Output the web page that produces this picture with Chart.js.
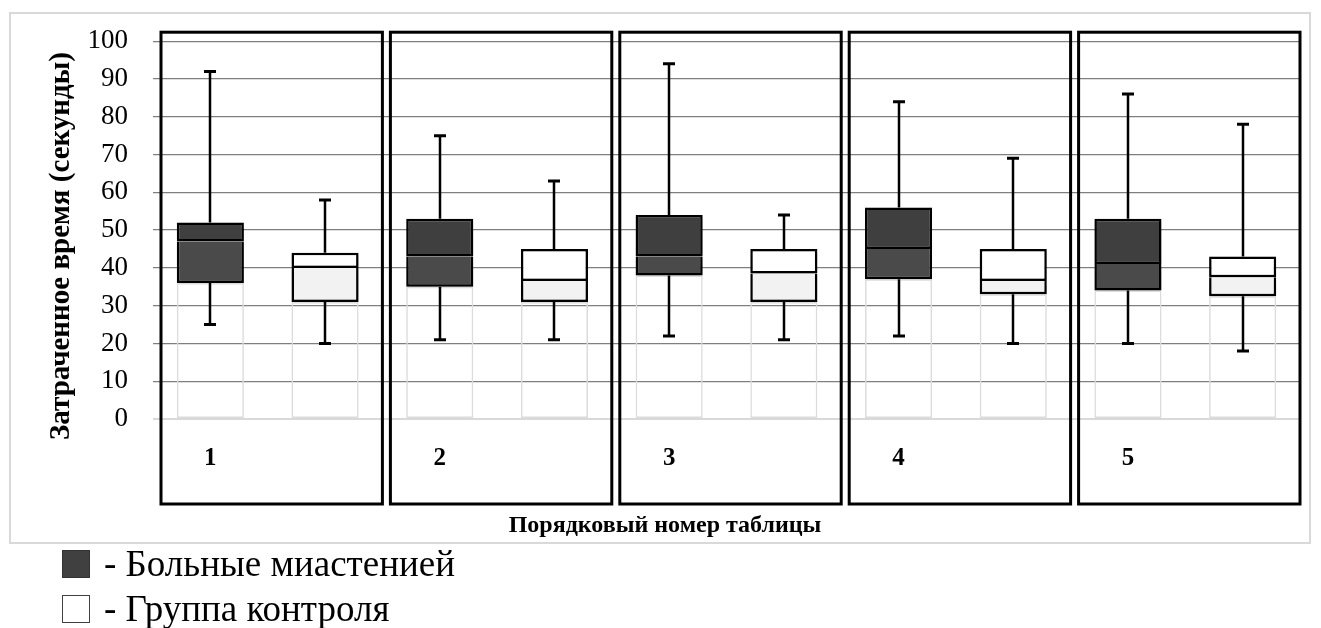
<!DOCTYPE html>
<html lang="ru">
<head>
<meta charset="utf-8">
<title>Затраченное время</title>
<script src="https://cdn.jsdelivr.net/npm/chart.js@4.4.1/dist/chart.umd.min.js"></script>
<style>
  body { margin: 0; background: #fff; font-family: "Liberation Serif", "Times New Roman", serif; }
  #wrap { position: relative; width: 1321px; height: 628px; overflow: hidden; }
  #frame { position: absolute; left: 9px; top: 12px; width: 1298px; height: 528px; border: 2px solid #d9d9d9; }
  #chart { position: absolute; left: 0; top: 0; }
  .legend { position: absolute; left: 62px; font-family: "Liberation Serif", serif; font-size: 37px; line-height: 30px; display: flex; align-items: center; color: #000; }
  .legend .box { width: 26px; height: 26px; margin-right: 14px; }
</style>
</head>
<body>
<div id="wrap">
  <div id="frame"></div>
  <canvas id="chart" width="1321" height="628"></canvas>
  <div class="legend" style="top: 549px;"><span class="box" style="background:#404040;border:1px solid #333;"></span>- Больные миастенией</div>
  <div class="legend" style="top: 594px;"><span class="box" style="background:#fff;border:1px solid #404040;"></span>- Группа контроля</div>
</div>
<script>
// table numbers (x axis)
const tableLabels = ['1', '2', '3', '4', '5'];

// patients with myasthenia: min, Q1, median, Q3, max (seconds)
const patientMin = [25, 21, 22, 22, 20];
const patientQ1 = [36, 35, 38, 37, 34];
const patientMed = [47, 43, 43, 45, 41];
const patientQ3 = [52, 53, 54, 56, 53];
const patientMax = [92, 75, 94, 84, 86];

// control group
const controlMin = [20, 21, 21, 20, 18];
const controlQ1 = [31, 31, 31, 33, 32.5];
const controlMed = [40, 36.5, 38.5, 36.5, 37.5];
const controlQ3 = [44, 45, 45, 45, 43];
const controlMax = [58, 63, 54, 69, 78];

const yMin = 0;
const yMax = 100;
const yStep = 10;

const yTitle = 'Затраченное время (секунды)';
const xTitle = 'Порядковый номер таблицы';

// each table gets two slots: patients, then controls
function interleave(a, b) {
  const out = [];
  a.forEach((v, i) => { out.push(v); out.push(b[i]); });
  return out;
}

const labels = interleave(tableLabels, tableLabels.map(() => ''));
const mins = interleave(patientMin, controlMin);
const q1s = interleave(patientQ1, controlQ1);
const meds = interleave(patientMed, controlMed);
const q3s = interleave(patientQ3, controlQ3);
const maxs = interleave(patientMax, controlMax);

const serif = '"Liberation Serif", "Times New Roman", serif';

const boxPlugin = {
  id: 'boxExtras',
  beforeDatasetDraw(chart, args) {
    const ctx = chart.ctx;
    ctx.save();
    if (args.index !== 0) {
      ctx.shadowColor = 'rgba(0,0,0,0.28)';
      ctx.shadowBlur = 6;
      ctx.shadowOffsetX = 1;
      ctx.shadowOffsetY = 3;
    }
  },
  afterDatasetDraw(chart) {
    chart.ctx.restore();
  },
  afterDatasetsDraw(chart) {
    const ctx = chart.ctx;
    const y = chart.scales.y;
    const meta = chart.getDatasetMeta(1);
    ctx.save();
    ctx.strokeStyle = '#000';
    ctx.lineWidth = 2.5;
    meta.data.forEach((bar, i) => {
      const x = Math.round(bar.x);
      const segs = [[mins[i], q1s[i]], [q3s[i], maxs[i]]];
      ctx.beginPath();
      segs.forEach(([a, b]) => {
        ctx.moveTo(x, y.getPixelForValue(a));
        ctx.lineTo(x, y.getPixelForValue(b));
      });
      ctx.stroke();
      ctx.lineWidth = 3;
      ctx.beginPath();
      [mins[i], maxs[i]].forEach(v => {
        const py = y.getPixelForValue(v);
        ctx.moveTo(x - 6, py);
        ctx.lineTo(x + 6, py);
      });
      ctx.stroke();
      ctx.lineWidth = 2.5;
    });
    ctx.restore();
  },
  afterDraw(chart) {
    const ctx = chart.ctx;
    const area = chart.chartArea;
    const xs = chart.scales.x;
    const w = area.width / labels.length;
    ctx.save();
    // frames around each table pair
    ctx.strokeStyle = '#000';
    ctx.lineWidth = 3;
    tableLabels.forEach((t, p) => {
      const left = xs.getPixelForTick(p * 2) - w / 2 + 8;
      const right = xs.getPixelForTick(p * 2 + 1) + w / 2;
      ctx.strokeRect(left, area.top - 9, right - left, area.bottom - area.top + 94);
    });
    // axis titles
    ctx.fillStyle = '#000';
    ctx.textAlign = 'center';
    ctx.textBaseline = 'middle';
    ctx.font = 'bold 24px ' + serif;
    ctx.fillText(xTitle, 665, 526);
    ctx.font = 'bold 29px ' + serif;
    ctx.translate(62, 246);
    ctx.rotate(-Math.PI / 2);
    ctx.fillText(yTitle, 0, 0);
    ctx.restore();
  }
};

class BoxChart {
  constructor() {
    this.canvas = document.getElementById('chart');
    this.draw();
  }
  draw() {
    const ctx = this.canvas.getContext('2d');
    this.chart = new Chart(ctx, {
      type: 'bar',
      data: {
        labels: labels,
        datasets: [
          {
            label: 'base',
            data: q1s.map(q => [yMin, q]),
            backgroundColor: 'rgba(255,255,255,0)',
            borderColor: '#dcdcdc',
            borderWidth: 1.5,
            borderSkipped: false,
            grouped: false,
            order: 3
          },
          {
            label: 'lower',
            data: q1s.map((q, i) => [q, meds[i]]),
            backgroundColor: labels.map((l, i) => i % 2 === 0 ? '#4a4a4a' : '#f2f2f2'),
            borderColor: '#000',
            borderWidth: 2.5,
            borderSkipped: 'top',
            grouped: false,
            order: 2
          },
          {
            label: 'upper',
            data: meds.map((m, i) => [m, q3s[i]]),
            backgroundColor: labels.map((l, i) => i % 2 === 0 ? '#3f3f3f' : '#ffffff'),
            borderColor: '#000',
            borderWidth: 2.5,
            borderSkipped: false,
            grouped: false,
            order: 1
          }
        ]
      },
      options: {
        responsive: false,
        animation: false,
        layout: { padding: { left: 0, top: 41, right: 21, bottom: 0 } },
        categoryPercentage: 1,
        barPercentage: 0.585,
        scales: {
          x: {
            afterFit(scale) { scale.height = 628 - 419; },
            grid: { display: false },
            border: { display: false },
            ticks: {
              color: '#000',
              font: { family: serif, size: 25, weight: 'bold' },
              padding: 17,
              maxRotation: 0,
              autoSkip: false
            }
          },
          y: {
            min: yMin,
            max: yMax,
            afterFit(scale) { scale.width = 153; },
            border: { display: false },
            grid: {
              drawTicks: false,
              color: c => c.tick.value === 0 ? '#d9d9d9' : '#7f7f7f',
              lineWidth: c => c.tick.value === 0 ? 2 : 1.3
            },
            ticks: {
              stepSize: yStep,
              color: '#000',
              padding: 25,
              font: { family: serif, size: 27 }
            }
          }
        },
        plugins: {
          legend: { display: false },
          tooltip: { enabled: false }
        }
      },
      plugins: [boxPlugin]
    });
  }
}

document.addEventListener('DOMContentLoaded', function () {
  const boxChart = new BoxChart();
});
</script>
</body>
</html>
